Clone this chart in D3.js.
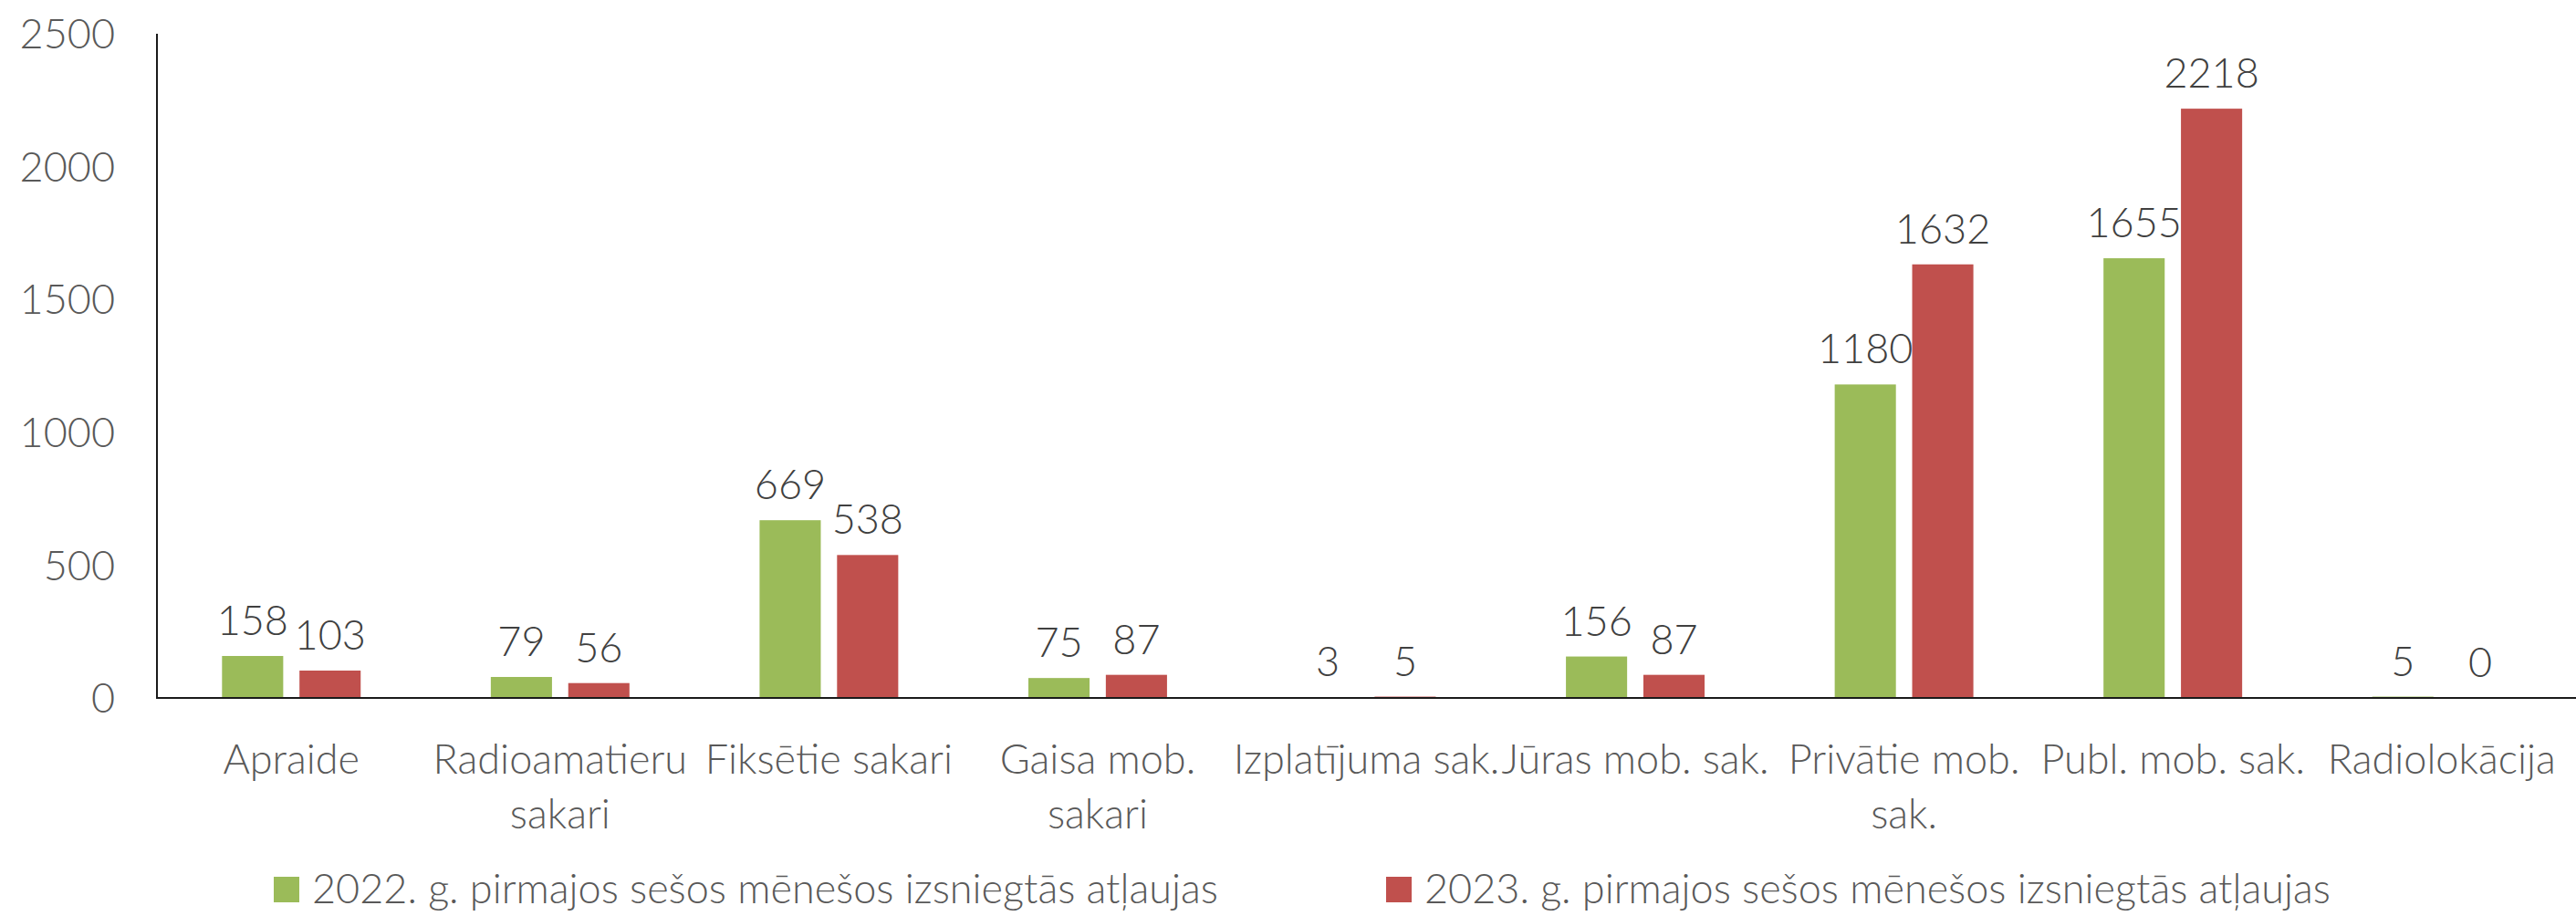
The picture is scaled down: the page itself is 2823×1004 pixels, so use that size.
<!DOCTYPE html>
<html>
<head>
<meta charset="utf-8">
<script src="https://cdn.jsdelivr.net/npm/d3@7"></script>
<style>
  body { margin: 0; background: #fff; }
  text { font-family: "Segoe UI", Lato, "Open Sans", sans-serif; font-weight: 300; }
</style>
</head>
<body>
<svg id="chart"></svg>
<script>
var categories = ["Apraide", "Radioamatieru\nsakari", "Fiksētie sakari", "Gaisa mob.\nsakari",
    "Izplatījuma sak.", "Jūras mob. sak.", "Privātie mob.\nsak.", "Publ. mob. sak.", "Radiolokācija"];
var series = ["2022. g. pirmajos sešos mēnešos izsniegtās atļaujas",
    "2023. g. pirmajos sešos mēnešos izsniegtās atļaujas"];
var values2022 = [158, 79, 669, 75, 3, 156, 1180, 1655, 5];
var values2023 = [103, 56, 538, 87, 5, 87, 1632, 2218, 0];
var yTicks = [0, 500, 1000, 1500, 2000, 2500];
var colors = ["#9BBB59", "#C0504D"];

var w = 2823;
var h = 1004;
var padLeft = 172;
var padTop = 37;
var baseY = 765;
var fontSize = "45px";

var svg = d3.select("#chart")
    .attr("width", w)
    .attr("height", h);

var x0 = d3.scaleBand()
    .domain(d3.range(categories.length))
    .range([padLeft, w])
    .padding(0);

var x1 = d3.scaleBand()
    .domain([0, 1])
    .range([0, x0.bandwidth()])
    .paddingInner(0.21)
    .paddingOuter(0.84);

var y = d3.scaleLinear()
    .domain([0, 2500])
    .range([baseY, padTop]);

// y tick labels
svg.selectAll("text.ytick")
    .data(yTicks)
    .enter()
    .append("text")
    .attr("class", "ytick")
    .attr("x", 126)
    .attr("y", function (d) { return y(d); })
    .attr("dy", "0.36em")
    .attr("text-anchor", "end")
    .attr("font-size", fontSize)
    .attr("fill", "#595959")
    .text(function (d) { return d; });

// bars + value labels
var data = [values2022, values2023];
data.forEach(function (vals, s) {
    svg.selectAll("rect.s" + s)
        .data(vals)
        .enter()
        .append("rect")
        .attr("class", "s" + s)
        .attr("x", function (d, i) { return x0(i) + x1(s); })
        .attr("y", function (d) { return y(d); })
        .attr("width", x1.bandwidth())
        .attr("height", function (d) { return baseY - y(d); })
        .attr("fill", colors[s]);

    svg.selectAll("text.lbl" + s)
        .data(vals)
        .enter()
        .append("text")
        .attr("class", "lbl" + s)
        .attr("x", function (d, i) { return x0(i) + x1(s) + x1.bandwidth() / 2; })
        .attr("y", function (d) { return y(d) - 23; })
        .attr("text-anchor", "middle")
        .attr("font-size", fontSize)
        .attr("fill", "#404040")
        .text(function (d) { return d; });
});

// axis lines
svg.append("line")
    .attr("x1", padLeft).attr("x2", padLeft)
    .attr("y1", padTop).attr("y2", baseY + 1)
    .attr("stroke", "#1a1a1a").attr("stroke-width", 2);
svg.append("line")
    .attr("x1", padLeft).attr("x2", w)
    .attr("y1", baseY).attr("y2", baseY)
    .attr("stroke", "#1a1a1a").attr("stroke-width", 2);

// category labels
var cat = svg.selectAll("text.cat")
    .data(categories)
    .enter()
    .append("text")
    .attr("class", "cat")
    .attr("text-anchor", "middle")
    .attr("font-size", fontSize)
    .attr("fill", "#595959");
cat.each(function (d, i) {
    var t = d3.select(this);
    d.split("\n").forEach(function (line, j) {
        t.append("tspan")
            .attr("x", x0(i) + x0.bandwidth() / 2)
            .attr("y", 848 + j * 60)
            .text(line);
    });
});

// legend
var legendX = [300, 1519];
series.forEach(function (name, s) {
    svg.append("rect")
        .attr("x", legendX[s])
        .attr("y", 961)
        .attr("width", 28)
        .attr("height", 28)
        .attr("fill", colors[s]);
    svg.append("text")
        .attr("x", legendX[s] + 42)
        .attr("y", 990)
        .attr("font-size", fontSize)
        .attr("fill", "#595959")
        .text(name);
});
</script>
</body>
</html>
